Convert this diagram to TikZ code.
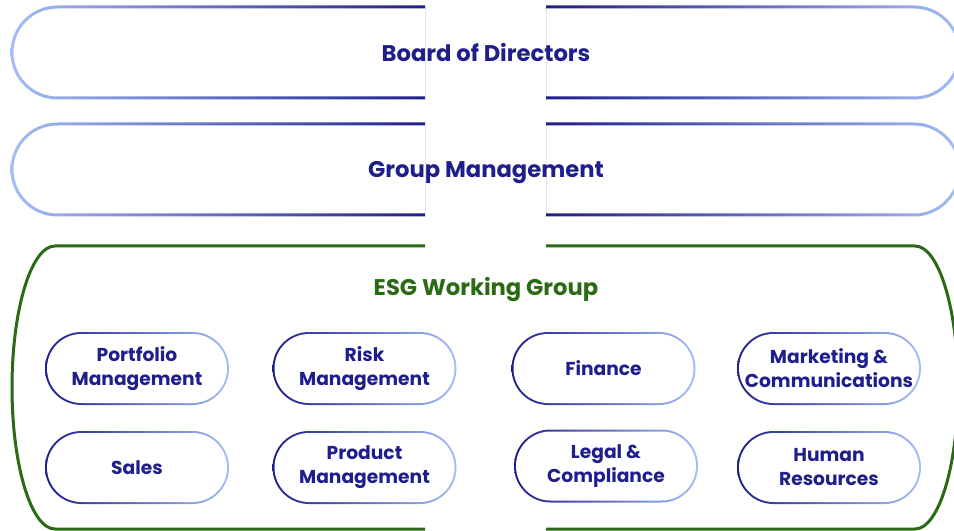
\documentclass[tikz,border=0pt]{standalone}
\usepackage{fontspec}
\setmainfont{Poppins}
\usepackage{tikz}
\usetikzlibrary{calc}
\definecolor{navyColor}{HTML}{1E1E8C}
\definecolor{liteColor}{HTML}{A4BEF6}
\definecolor{esgColor}{HTML}{2B6A14}

\tikzset{
  head/.style={text=navyColor, text depth=0pt, font=\bfseries\fontsize{17}{20}\selectfont},
  pill/.style={rectangle, rounded corners=27.375pt, inner sep=0pt,
    minimum width=138pt, minimum height=54.75pt, align=center,
    text=navyColor, font=\bfseries\fontsize{14}{18}\selectfont,
    path picture={
      \shade[left color=navyColor, right color=liteColor]
        (path picture bounding box.south west) rectangle (path picture bounding box.north east);
      \fill[white, rounded corners=25.875pt]
        ($(path picture bounding box.south west)+(1.5pt,1.5pt)$) rectangle
        ($(path picture bounding box.north east)-(1.5pt,1.5pt)$);
    }},
}

\begin{document}
\begin{tikzpicture}[x=0.75pt, y=-0.75pt]
    \useasboundingbox (0,0) rectangle (954,531);
    % board and group management
    \foreach \yt/\yb/\nm/\lbl in {7/98/board/{Board of Directors}, 124/215/mgmt/{Group Management}} {
        \shade[even odd rule, left color=liteColor, right color=navyColor]
            (425,\yt-1.5) -- (57.5,\yt-1.5) arc[start angle=90, end angle=270, radius=35.25pt] -- (425,\yb+1.5) -- cycle
            (425,\yt+1.5) -- (57.5,\yt+1.5) arc[start angle=90, end angle=270, radius=33pt] -- (425,\yb-1.5) -- cycle;
        \shade[even odd rule, left color=navyColor, right color=liteColor]
            (546,\yt-1.5) -- (914,\yt-1.5) arc[start angle=90, end angle=-90, radius=35.25pt] -- (546,\yb+1.5) -- cycle
            (546,\yt+1.5) -- (914,\yt+1.5) arc[start angle=90, end angle=-90, radius=33pt] -- (546,\yb-1.5) -- cycle;
        \node[head] (\nm) at (486,{(\yt+\yb)/2}) {\lbl};
    }
    % working group
    \draw[esgColor, line width=2.25pt] (425,246) -- (55,246)
        arc[start angle=90, end angle=270, x radius=32.25pt, y radius=106.125pt] -- (425,529);
    \draw[esgColor, line width=2.25pt] (546,246) -- (915,246)
        arc[start angle=90, end angle=-90, x radius=32.25pt, y radius=106.125pt] -- (546,529);
    \node[head, text=esgColor] (esg) at (486,286) {ESG Working Group};
    \foreach \nm/\x/\y/\txt in {
        port/137/368.5/{Portfolio\\Management}, risk/364.5/368.5/{Risk\\Management},
        fin/603.5/368.5/{Finance}, mark/829/368.5/{Marketing \&\\Communications},
        sales/137/467.5/{Sales}, prod/364.5/467.5/{Product\\Management},
        legal/606/466/{Legal \&\\Compliance}, hr/829/467.5/{Human\\Resources}}
        \node[pill] (\nm) at (\x,\y) {\txt};
\end{tikzpicture}
\end{document}
